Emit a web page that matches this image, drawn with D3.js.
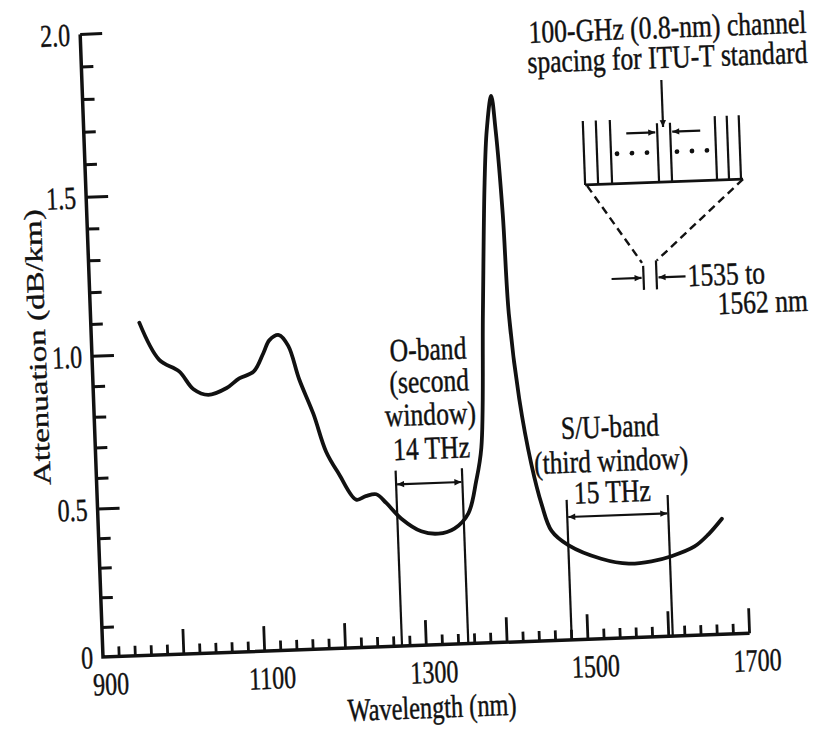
<!DOCTYPE html>
<html>
<head>
<meta charset="utf-8">
<script src="https://cdn.jsdelivr.net/npm/d3@7"></script>
<style>
    html, body { margin: 0; padding: 0; background: #fff; }
    svg { display: block; }
    text { font-family: "Liberation Serif", "Times New Roman", serif; fill: #111; stroke: #111; stroke-width: 0.45px; }
</style>
</head>
<body>
<svg id="chart" width="817" height="734"></svg>
<script>
// Attenuation curve
const wavelength = [960, 983, 1007, 1024, 1042, 1065, 1081, 1099, 1112, 1120, 1132, 1143, 1155, 1171, 1185, 1200,
    1220, 1232, 1245, 1257, 1275, 1299, 1320, 1340, 1358, 1369, 1377, 1385, 1393, 1398, 1405, 1409, 1414, 1417,
    1426, 1438, 1449, 1460, 1480, 1520, 1554, 1582, 1607, 1636, 1654, 1671];
const attenuation = [1.10, 0.98, 0.94, 0.88, 0.86, 0.88, 0.91, 0.93, 0.99, 1.03, 1.045, 1.01, 0.90, 0.785, 0.66, 0.585,
    0.50, 0.51, 0.515, 0.485, 0.43, 0.385, 0.375, 0.39, 0.44, 0.545, 0.655, 1.09, 1.50, 1.66, 1.765, 1.66, 1.40, 1.085,
    0.81, 0.595, 0.46, 0.37, 0.32, 0.27, 0.25, 0.255, 0.27, 0.30, 0.34, 0.39];

// Transmission windows (nm)
const oBand = [1270, 1352];
const suBand = [1480, 1605];
const oBandText = ["O-band", "(second", "window)", "14 THz"];
const suBandText = ["S/U-band", "(third window)", "15 THz"];

// Axis ticks
const xTicks = [900, 1100, 1300, 1500, 1700];
const yTicks = [0, 0.5, 1.0, 1.5, 2.0];
const yTickLabels = ["0", "0.5", "1.0", "1.5", "2.0"];

const plotW = 647;
const ink = "#111";
const serif = "32px";

const svg = d3.select("#chart");

// Arrow heads
const defs = svg.append("defs");
defs.append("marker")
    .attr("id", "arrow")
    .attr("viewBox", "0 0 10 10")
    .attr("refX", 10).attr("refY", 5)
    .attr("markerWidth", 11).attr("markerHeight", 7)
    .attr("markerUnits", "userSpaceOnUse")
    .attr("orient", "auto-start-reverse")
    .append("path").attr("d", "M0,0.5 L10,5 L0,9.5 Z").attr("fill", ink);

const x = d3.scaleLinear().domain([900, 1700]).range([0, plotW]);
// the printed scale is a little uneven, follow its tick marks
const y = d3.scaleLinear().domain([0, 0.5, 1, 1.5, 2]).range([0, -148, -301, -460, -623]);

// the scanned figure sits slightly tilted
const g = svg.append("g").attr("transform", "translate(103,657) rotate(-2.1)");

// x ticks: minor every 20 nm, major every 100 nm, pointing inward
const xMinor = d3.range(920, 1700, 20).filter(v => v % 100 !== 0);
const xMajor = d3.range(1000, 1701, 100);
g.append("path")
    .attr("d", xMinor.map(v => `M${x(v)},0V-10`).join("") + xMajor.map(v => `M${x(v)},0V-25`).join(""))
    .attr("fill", "none").attr("stroke", ink).attr("stroke-width", 2.8);

// y ticks: minor every 0.1, major every 0.5
const yMinor = d3.range(1, 20).filter(v => v % 5 !== 0).map(v => v / 10);
const yMajor = [0.5, 1.0, 1.5, 2.0];
g.append("path")
    .attr("d", yMinor.map(v => `M0,${y(v)}H12`).join("") + yMajor.map(v => `M0,${y(v)}H22`).join(""))
    .attr("fill", "none").attr("stroke", ink).attr("stroke-width", 3);

// axis lines
g.append("path")
    .attr("d", `M${x(900)},${y(2)} L${x(900)},${y(0)} L${x(1700)},${y(0)}`)
    .attr("fill", "none").attr("stroke", ink).attr("stroke-width", 3.5);

// tick labels
g.selectAll(".xlab").data(xTicks).join("text")
    .attr("class", "xlab")
    .attr("transform", d => `translate(${x(d) + 7},38) scale(0.75,1)`)
    .attr("text-anchor", "middle")
    .style("font-size", serif)
    .text(d => d);

g.selectAll(".ylab").data(yTicks).join("text")
    .attr("class", "ylab")
    .attr("transform", d => `translate(-10,${y(d) + 11}) scale(0.75,1)`)
    .attr("text-anchor", "end")
    .style("font-size", serif)
    .text((d, i) => yTickLabels[i]);

// axis titles
g.append("text")
    .attr("transform", "translate(327,73) scale(0.76,1)")
    .attr("text-anchor", "middle")
    .style("font-size", serif)
    .text("Wavelength (nm)");

g.append("text")
    .attr("transform", "translate(-46,-312) rotate(-90) scale(1,0.75)")
    .attr("text-anchor", "middle")
    .style("font-size", "33px")
    .text("Attenuation (dB/km)");

// attenuation curve
const pts = wavelength.map((w, i) => ({ w, a: attenuation[i] }));
g.append("path")
    .datum(pts)
    .attr("d", d3.line().x(d => x(d.w)).y(d => y(d.a)).curve(d3.curveCatmullRom.alpha(0.5)))
    .attr("fill", "none")
    .attr("stroke", ink)
    .attr("stroke-width", 3.8)
    .attr("stroke-linejoin", "round")
    .attr("stroke-linecap", "round");

// window markers
function drawWindow(band, tops, arrowAt) {
    band.forEach((w, i) => {
        g.append("line")
            .attr("x1", x(w)).attr("x2", x(w))
            .attr("y1", y(0)).attr("y2", y(tops[i]))
            .attr("stroke", ink).attr("stroke-width", 2.2);
    });
    g.append("line")
        .attr("x1", x(band[0]) + 1).attr("x2", x(band[1]) - 1)
        .attr("y1", y(arrowAt)).attr("y2", y(arrowAt))
        .attr("stroke", ink).attr("stroke-width", 2.2)
        .attr("marker-start", "url(#arrow)")
        .attr("marker-end", "url(#arrow)");
}
drawWindow(oBand, [0.59, 0.59], 0.545);
drawWindow(suBand, [0.473, 0.477], 0.415);

function drawLabel(lines, cx, baselines) {
    lines.forEach((t, i) => {
        g.append("text")
            .attr("transform", `translate(${cx},${baselines[i]}) scale(0.8,1)`)
            .attr("text-anchor", "middle")
            .style("font-size", serif)
            .text(t);
    });
}
drawLabel(oBandText, 336, [-285, -253, -220, -186]);
drawLabel(suBandText, 515, [-201, -167, -136]);

// inset: ITU-T channel grid
const inset = svg.append("g").attr("transform", "rotate(-2.1,665,180)");
inset.append("text")
    .attr("transform", "translate(812,38) scale(0.8,1)")
    .attr("text-anchor", "end").style("font-size", serif)
    .text("100-GHz (0.8-nm) channel");
inset.append("text")
    .attr("transform", "translate(812,68) scale(0.8,1)")
    .attr("text-anchor", "end").style("font-size", serif)
    .text("spacing for ITU-T standard");

inset.append("line")
    .attr("x1", 665).attr("x2", 665).attr("y1", 80).attr("y2", 127)
    .attr("stroke", ink).attr("stroke-width", 2.2).attr("marker-end", "url(#arrow)");

const channels = [585, 598, 612, 659, 672, 717, 729, 741];
inset.selectAll(".ch").data(channels).join("line")
    .attr("class", "ch")
    .attr("x1", d => d).attr("x2", d => d)
    .attr("y1", (d, i) => (i === 3 || i === 4) ? 123 : 118).attr("y2", 182)
    .attr("stroke", ink).attr("stroke-width", 2.2);
inset.append("line")
    .attr("x1", 585).attr("x2", 743).attr("y1", 182).attr("y2", 182)
    .attr("stroke", ink).attr("stroke-width", 2.8);

[618, 633, 648, 678, 693, 708].forEach(cx => {
    inset.append("circle").attr("cx", cx).attr("cy", 152).attr("r", 2.4).attr("fill", ink);
});

inset.append("line")
    .attr("x1", 628).attr("x2", 657).attr("y1", 132).attr("y2", 132)
    .attr("stroke", ink).attr("stroke-width", 2.2).attr("marker-end", "url(#arrow)");
inset.append("line")
    .attr("x1", 702).attr("x2", 674).attr("y1", 132).attr("y2", 132)
    .attr("stroke", ink).attr("stroke-width", 2.2).attr("marker-end", "url(#arrow)");

// zoom-out dashes
inset.append("path")
    .attr("d", "M587,183 L639,262 M743,182 L654,260")
    .attr("fill", "none").attr("stroke", ink).attr("stroke-width", 2.4)
    .attr("stroke-dasharray", "8,5");

inset.append("line").attr("x1", 640).attr("x2", 640).attr("y1", 265).attr("y2", 289)
    .attr("stroke", ink).attr("stroke-width", 2.2);
inset.append("line").attr("x1", 653).attr("x2", 653).attr("y1", 260).attr("y2", 289)
    .attr("stroke", ink).attr("stroke-width", 2.2);
inset.append("line")
    .attr("x1", 608).attr("x2", 638).attr("y1", 277).attr("y2", 277)
    .attr("stroke", ink).attr("stroke-width", 2.2).attr("marker-end", "url(#arrow)");
inset.append("line")
    .attr("x1", 682).attr("x2", 655).attr("y1", 277).attr("y2", 277)
    .attr("stroke", ink).attr("stroke-width", 2.2).attr("marker-end", "url(#arrow)");

inset.append("text")
    .attr("transform", "translate(684,287) scale(0.8,1)")
    .style("font-size", serif)
    .text("1535 to");
inset.append("text")
    .attr("transform", "translate(713,316) scale(0.8,1)")
    .style("font-size", serif)
    .text("1562 nm");
</script>
</body>
</html>
